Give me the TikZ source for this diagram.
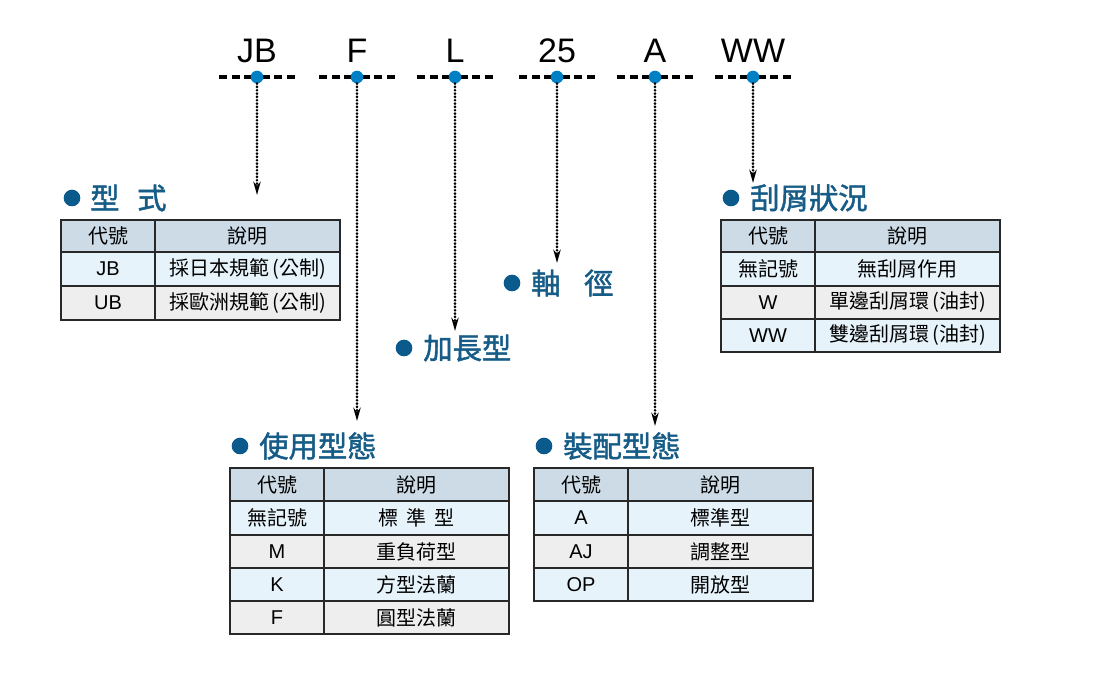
\documentclass[tikz,border=0pt]{standalone}
\usepackage{fontspec}
\setmainfont{Liberation Sans}
\newfontfamily\cjk{Noto Sans CJK TC}
\newfontfamily\cjkm[FakeBold=1.6]{Noto Sans CJK TC}
\usetikzlibrary{arrows.meta}
\definecolor{hdr}{RGB}{204,219,230}
\definecolor{rowb}{RGB}{230,243,251}
\definecolor{rowg}{RGB}{238,238,238}
\definecolor{ttl}{RGB}{22,92,135}
\definecolor{bul}{RGB}{10,90,140}
\definecolor{pin}{RGB}{0,128,196}
\definecolor{tline}{RGB}{40,40,40}
\newcommand\lat{\rmfamily}
\newcommand\tcell[7]{%
  \pgfmathsetmacro\tcW{(#4-#2)*0.75}\pgfmathsetmacro\tcH{(#5-#3)*0.75}%
  \node[cellbox, fill=#6, minimum width=\tcW pt, minimum height=\tcH pt] (#1) at ({(#2+#4)/2},{(#3+#5)/2}) {#7};}
\tikzset{
  codetxt/.style={font=\fontsize{25.5}{25.5}\selectfont, anchor=base, inner sep=0pt},
  dashbar/.style={line width=2.6pt, dash pattern=on 6pt off 3.4pt},
  pindot/.style={circle, fill=pin, inner sep=0pt, minimum size=9.5pt},
  conn/.style={line width=2.2pt, dash pattern=on 0pt off 2.5pt, line cap=round, -{Stealth[length=10pt,width=5.5pt]}},
  bullet/.style={circle, fill=bul, inner sep=0pt, minimum size=12.5pt},
  ttltxt/.style={font=\cjkm\fontsize{22}{22}\selectfont, text=ttl, anchor=west, inner sep=0pt},
  cellbox/.style={draw=tline, line width=1.1pt, inner sep=0pt, font=\cjk\fontsize{15}{15}\selectfont}
}
\begin{document}
\begin{tikzpicture}[x=0.75pt,y=-0.75pt]
\useasboundingbox (0,0) rectangle (1094,672);
% code letters
\foreach \nm/\xx/\tx in {JB/257/JB, F/357/F, L/455/L, 25/557/25, A/655/A, WW/753/WW}{
  \node[codetxt] (t\nm) at (\xx,62) {\tx};
  \draw[dashbar] (\xx-38,77) -- (\xx,77);
  \draw[dashbar] (\xx+38,77) -- (\xx,77);
  \node[pindot] (d\nm) at (\xx,77) {};
}
% arrow end points
\coordinate (eJB) at (257,195);
\coordinate (eF) at (357,421);
\coordinate (eL) at (455,331);
\coordinate (e25) at (557,263);
\coordinate (eA) at (655,426);
\coordinate (eWW) at (753,183);
\foreach \nm in {JB,F,L,25,A,WW}{
  \draw[conn] (d\nm.south) -- (e\nm);
}
% headings
\node[bullet] (b1) at (72,198) {};
\node[ttltxt] (h1) at (90,198) {型\hspace{0.6em}式};
\node[bullet] (b2) at (404,348) {};
\node[ttltxt] (h2) at (423,348) {加長型};
\node[bullet] (b3) at (512,283) {};
\node[ttltxt] (h3) at (531,283) {軸\hspace{0.8em}徑};
\node[bullet] (b4) at (731,198) {};
\node[ttltxt] (h4) at (750,198) {刮屑狀況};
\node[bullet] (b5) at (240,446) {};
\node[ttltxt] (h5) at (259,446) {使用型態};
\node[bullet] (b6) at (544,446) {};
\node[ttltxt] (h6) at (563,446) {裝配型態};
% table 1
\tcell{a0c}{61}{220}{155}{252}{hdr}{代號}
\tcell{a0d}{155}{220}{340}{252}{hdr}{說明}
\tcell{a1c}{61}{252}{155}{286}{rowb}{\lat JB}
\tcell{a1d}{155}{252}{340}{286}{rowb}{採日本規範\,(公制)}
\tcell{a2c}{61}{286}{155}{320}{rowg}{\lat UB}
\tcell{a2d}{155}{286}{340}{320}{rowg}{採歐洲規範\,(公制)}
% table 4
\tcell{d0c}{721}{220}{815}{252}{hdr}{代號}
\tcell{d0d}{815}{220}{1000}{252}{hdr}{說明}
\tcell{d1c}{721}{252}{815}{286}{rowb}{無記號}
\tcell{d1d}{815}{252}{1000}{286}{rowb}{無刮屑作用}
\tcell{d2c}{721}{286}{815}{319}{rowg}{\lat W}
\tcell{d2d}{815}{286}{1000}{319}{rowg}{單邊刮屑環\,(油封)}
\tcell{d3c}{721}{319}{815}{352}{rowb}{\lat WW}
\tcell{d3d}{815}{319}{1000}{352}{rowb}{雙邊刮屑環\,(油封)}
% table 5
\tcell{e0c}{230}{468}{324}{501}{hdr}{代號}
\tcell{e0d}{324}{468}{509}{501}{hdr}{說明}
\tcell{e1c}{230}{501}{324}{535}{rowb}{無記號}
\tcell{e1d}{324}{501}{509}{535}{rowb}{標\hspace{0.4em}準\hspace{0.4em}型}
\tcell{e2c}{230}{535}{324}{568}{rowg}{\lat M}
\tcell{e2d}{324}{535}{509}{568}{rowg}{重負荷型}
\tcell{e3c}{230}{568}{324}{601}{rowb}{\lat K}
\tcell{e3d}{324}{568}{509}{601}{rowb}{方型法蘭}
\tcell{e4c}{230}{601}{324}{634}{rowg}{\lat F}
\tcell{e4d}{324}{601}{509}{634}{rowg}{圓型法蘭}
% table 6
\tcell{f0c}{534}{468}{628}{501}{hdr}{代號}
\tcell{f0d}{628}{468}{813}{501}{hdr}{說明}
\tcell{f1c}{534}{501}{628}{535}{rowb}{\lat A}
\tcell{f1d}{628}{501}{813}{535}{rowb}{標準型}
\tcell{f2c}{534}{535}{628}{568}{rowg}{\lat AJ}
\tcell{f2d}{628}{535}{813}{568}{rowg}{調整型}
\tcell{f3c}{534}{568}{628}{601}{rowb}{\lat OP}
\tcell{f3d}{628}{568}{813}{601}{rowb}{開放型}
\end{tikzpicture}
\end{document}
